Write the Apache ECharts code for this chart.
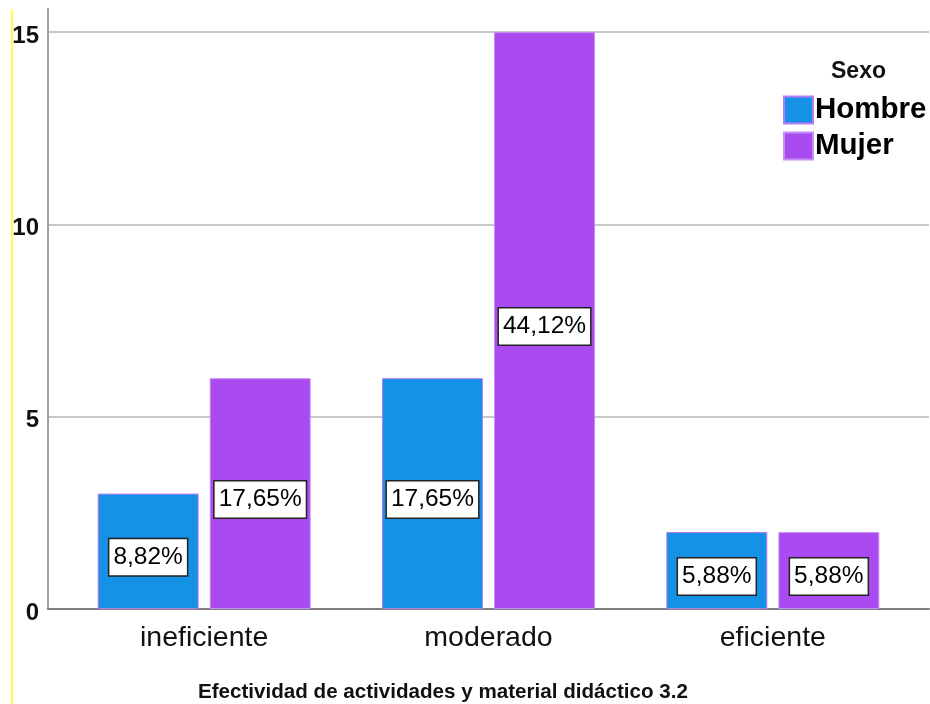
<!DOCTYPE html>
<html>
<head>
<meta charset="utf-8">
<script src="https://cdn.jsdelivr.net/npm/echarts@6/dist/echarts.min.js"></script>
<style>
html,body{margin:0;padding:0;background:#fff;}
#chart{width:930px;height:704px;}
</style>
</head>
<body>
<div id="chart"></div>
<script>
var categories = ['ineficiente', 'moderado', 'eficiente'];
var seriesNames = ['Hombre', 'Mujer'];
var hombreValues = [3, 6, 2];
var mujerValues = [6, 15, 2];
var hombreLabels = ['8,82%', '17,65%', '5,88%'];
var mujerLabels = ['17,65%', '44,12%', '5,88%'];
var yTicks = [0, 5, 10, 15];
var legendTitle = 'Sexo';
var xTitle = 'Efectividad de actividades y material didáctico 3.2';

var FONT = '"Liberation Sans", Arial, sans-serif';
var chart = echarts.init(document.getElementById('chart'));

function barLabel(labels) {
  return {
    show: true,
    position: 'inside',
    offset: [0, 6],
    formatter: function (p) { return labels[p.dataIndex]; },
    color: '#000',
    fontFamily: FONT,
    fontSize: 24.5,
    lineHeight: 28,
    backgroundColor: '#fff',
    borderColor: '#222',
    borderWidth: 1.5,
    padding: [5, 4, 3, 4]
  };
}

var option = {
  animation: false,
  backgroundColor: '#fff',
  title: [{
    text: legendTitle,
    left: 826, top: 55,
    textStyle: { fontFamily: FONT, fontSize: 23, fontWeight: 'bold', color: '#111' }
  }, {
    text: xTitle,
    left: 193, top: 677,
    textStyle: { fontFamily: FONT, fontSize: 20.6, fontWeight: 'bold', color: '#111' }
  }],
  legend: {
    orient: 'vertical',
    left: 783, top: 95, padding: 0,
    itemWidth: 29, itemHeight: 27, itemGap: 6,
    icon: 'rect',
    data: seriesNames,
    textStyle: { fontFamily: FONT, fontSize: 29.5, fontWeight: 'bold', color: '#000', padding: [2, 0, 0, -3] }
  },
  grid: [
    { left: 48, right: 1, top: 9, bottom: 95 },
    { left: 62, right: 15, top: 9, bottom: 95 }
  ],
  xAxis: [{
    gridIndex: 0, type: 'category', data: [''],
    axisLine: { show: true, lineStyle: { color: '#808080', width: 2 } },
    axisTick: { show: false }, axisLabel: { show: false }, splitLine: { show: false }
  }, {
    gridIndex: 1, type: 'category', data: categories,
    axisLine: { show: false }, axisTick: { show: false },
    axisLabel: { fontFamily: FONT, fontSize: 28.5, color: '#111', margin: 15 }
  }],
  yAxis: [{
    gridIndex: 0, type: 'value', min: yTicks[0], max: 15.6, interval: 5,
    axisLine: { show: true, lineStyle: { color: '#a0a0a0', width: 2 } },
    axisTick: { show: false },
    axisLabel: { margin: 9, showMaxLabel: false,
      formatter: function (v) { return yTicks.indexOf(v) >= 0 ? '{s| }\n{a|' + v + '}' : ''; },
      rich: {
        s: { fontSize: 4, lineHeight: 8 },
        a: { fontFamily: FONT, fontSize: 24, fontWeight: 'bold', color: '#111', lineHeight: 28 }
      } },
    splitLine: { show: true, showMaxLine: false, lineStyle: { color: '#c8c8c8', width: 2 } }
  }, {
    gridIndex: 1, type: 'value', min: 0, max: 15.6, interval: 5, show: false,
    splitLine: { show: false }
  }],
  series: [{
    name: seriesNames[0], type: 'bar', xAxisIndex: 1, yAxisIndex: 1,
    data: hombreValues, barWidth: '35.5%', barGap: '11%',
    itemStyle: { color: '#1591e6', borderColor: '#b77cf2', borderWidth: 1 },
    label: barLabel(hombreLabels)
  }, {
    name: seriesNames[1], type: 'bar', xAxisIndex: 1, yAxisIndex: 1,
    data: mujerValues, barWidth: '35.5%', barGap: '11%',
    itemStyle: { color: '#a94bf0', borderColor: '#c48ef5', borderWidth: 1 },
    label: barLabel(mujerLabels)
  }],
  graphic: [{
    type: 'line', silent: true,
    shape: { x1: 12, y1: 9, x2: 12, y2: 704 },
    style: { stroke: '#ffff00', lineWidth: 1.5 }
  }]
};
chart.setOption(option);
</script>
</body>
</html>
